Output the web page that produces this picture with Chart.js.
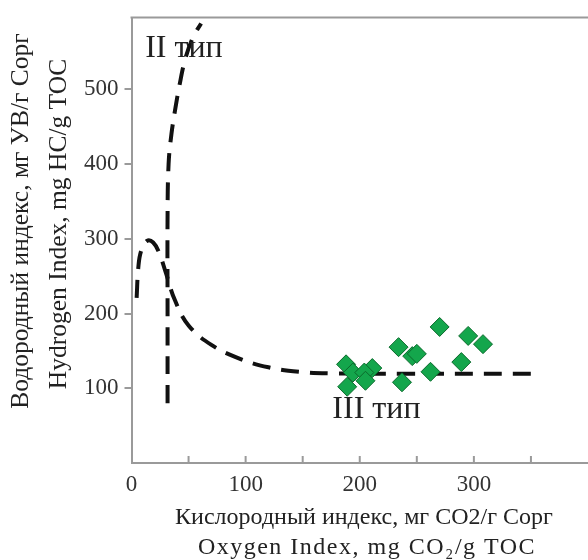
<!DOCTYPE html>
<html>
<head>
<meta charset="utf-8">
<script src="https://cdn.jsdelivr.net/npm/chart.js@4"></script>
<style>
  body { margin: 0; background: #fff; }
</style>
</head>
<body>
<canvas id="chart" width="588" height="560"></canvas>
<script>
// samples: Oxygen Index (x) and Hydrogen Index (y)
var oiValues = [270, 295, 308, 234, 246, 250, 289, 188, 211, 194, 204, 205, 262, 189, 237];
var hiValues = [182, 170, 159, 155, 143, 146, 135, 132, 127, 121, 121, 110, 122, 102, 108];

// kerogen type boundary curves
var type2X = [31.6, 31.6, 31.6, 32.5, 35, 38.5, 42, 47, 54, 61];
var type2Y = [80, 200, 330, 400, 440, 475, 505, 540, 570, 588];
var type3X = [4.5, 6, 8.5, 13.5, 19, 24, 30, 38, 50, 70, 94, 120, 147, 175, 240, 351];
var type3Y = [221, 262, 284, 297, 295, 282, 255, 218, 184, 158, 140, 128, 122, 120, 119.5, 119.5];

var xTicks = [0, 50, 100, 150, 200, 250, 300, 350];
var xTickLabels = [0, 100, 200, 300];
var yTicks = [100, 200, 300, 400, 500];

var xTitle = ['Кислородный индекс, мг CO2/г Сорг', 'Oxygen Index, mg CO\u2082/g TOC'];
var yTitle = ['Водородный индекс, мг УВ/г Сорг', 'Hydrogen Index, mg HC/g TOC'];

var serif = '"Liberation Serif", "Times New Roman", serif';

function pts(xs, ys) {
    var out = [];
    for (var i = 0; i < xs.length; i++) out.push({x: xs[i], y: ys[i]});
    return out;
}

var extras = {
    id: 'extras',
    afterDraw: function(chart) {
        var ctx = chart.ctx, a = chart.chartArea;
        var xs = chart.scales.x, ys = chart.scales.y;
        ctx.save();
        // top frame line
        ctx.strokeStyle = '#9a9a9a';
        ctx.lineWidth = 2;
        ctx.beginPath();
        ctx.moveTo(a.left - 1, a.top);
        ctx.lineTo(chart.width, a.top);
        ctx.stroke();
        // x ticks pointing inside
        xs.ticks.forEach(function(t) {
            if (t.value === 0) return;
            var px = xs.getPixelForValue(t.value);
            ctx.beginPath();
            ctx.moveTo(px, a.bottom);
            ctx.lineTo(px, a.bottom - 7);
            ctx.stroke();
        });
        // type labels
        ctx.fillStyle = '#222';
        ctx.font = '32px ' + serif;
        ctx.textBaseline = 'middle';
        ctx.fillText('II тип', xs.getPixelForValue(12), ys.getPixelForValue(555));
        ctx.fillText('III тип', xs.getPixelForValue(176), ys.getPixelForValue(71));

        // axis titles
        ctx.textAlign = 'center';
        ctx.font = '24px ' + serif;
        ctx.fillText(xTitle[0], 364, 518);
        ctx.letterSpacing = '1.5px';
        ctx.fillText(xTitle[1], 367, 548);
        ctx.letterSpacing = '0px';
        ctx.font = '25.5px ' + serif;
        ctx.save();
        ctx.translate(21, 221);
        ctx.rotate(-Math.PI / 2);
        ctx.fillText(yTitle[0], 0, 0);
        ctx.restore();
        ctx.save();
        ctx.translate(59, 224);
        ctx.rotate(-Math.PI / 2);
        ctx.fillText(yTitle[1], 0, 0);
        ctx.restore();
        ctx.restore();
    }
};

new Chart(document.getElementById('chart').getContext('2d'), {
    type: 'scatter',
    data: {
        datasets: [{
            label: 'II тип',
            data: pts(type2X, type2Y),
            showLine: true,
            borderColor: '#111',
            borderWidth: 4,
            borderDash: [18, 11],
            tension: 0.4,
            pointRadius: 0,
            order: 2
        }, {
            label: 'III тип',
            data: pts(type3X, type3Y),
            showLine: true,
            borderColor: '#111',
            borderWidth: 4,
            borderDash: [18, 11],
            tension: 0.4,
            pointRadius: 0,
            order: 2
        }, {
            label: 'Samples',
            data: pts(oiValues, hiValues),
            pointStyle: 'rectRot',
            pointRadius: 9.5,
            backgroundColor: '#14a64c',
            borderColor: '#0b6a2c',
            borderWidth: 1,
            order: 1
        }]
    },
    options: {
        responsive: false,
        animation: false,
        layout: { autoPadding: false, padding: { top: 15, right: 0, left: 78, bottom: 54 } },
        plugins: {
            legend: { display: false },
            tooltip: { enabled: false }
        },
        scales: {
            x: {
                type: 'linear',
                min: 0,
                max: 400,
                afterBuildTicks: function(scale) {
                    scale.ticks = xTicks.map(function(v) { return {value: v}; });
                },
                ticks: {
                    autoSkip: false,
                    maxRotation: 0,
                    padding: 10,
                    color: '#333',
                    font: { family: serif, size: 23, lineHeight: 1 },
                    callback: function(v) { return xTickLabels.indexOf(v) >= 0 ? String(v) : ''; }
                },
                grid: { display: true, drawOnChartArea: false, drawTicks: false, color: '#9a9a9a' },
                border: { display: true, color: '#9a9a9a', width: 2 },
                title: { display: false }
            },
            y: {
                type: 'linear',
                min: 0,
                max: 596,
                afterBuildTicks: function(scale) {
                    scale.ticks = yTicks.map(function(v) { return {value: v}; });
                },
                ticks: {
                    autoSkip: false,
                    padding: 6,
                    color: '#333',
                    font: { family: serif, size: 23, lineHeight: 1 },
                    callback: function(v) { return String(v); }
                },
                grid: { display: true, drawOnChartArea: false, drawTicks: true, tickLength: 7, color: '#9a9a9a', lineWidth: 2 },
                border: { display: true, color: '#9a9a9a', width: 2 },
                title: { display: false }
            }
        }
    },
    plugins: [extras]
});
</script>
</body>
</html>
